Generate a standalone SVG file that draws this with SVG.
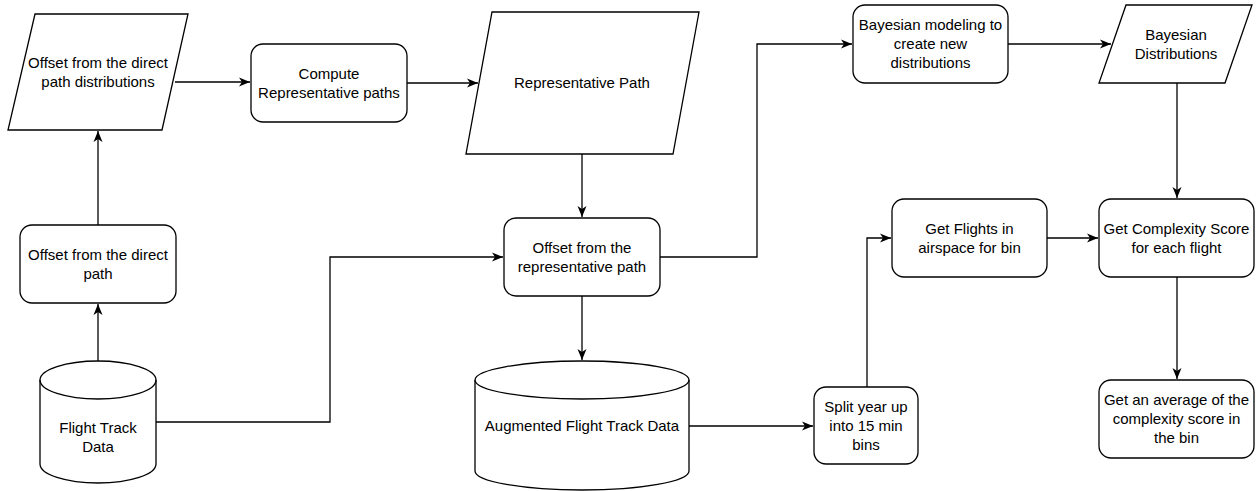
<svg xmlns="http://www.w3.org/2000/svg" width="1258" height="491" viewBox="0 0 1258 491">
<style>
.s{fill:#fff;stroke:#000;stroke-width:1.3}
.c{fill:none;stroke:#000;stroke-width:1.3}
text{font-family:"Liberation Sans",Arial,Helvetica,sans-serif;font-size:15px;fill:#000;text-anchor:middle}
</style>
<defs>
<marker id="a" markerUnits="userSpaceOnUse" markerWidth="12" markerHeight="10" viewBox="0 0 12 10" refX="11" refY="5" orient="auto">
<path d="M0,0.5 L11,5 L0,9.5 L3,5 Z" fill="#000"/>
</marker>
</defs>
<rect width="1258" height="491" fill="#fff"/>
<g id="connectors">
<path class="c" d="M175,82 H250" marker-end="url(#a)"/>
<path class="c" d="M407,83 H478" marker-end="url(#a)"/>
<path class="c" d="M582,154 V217" marker-end="url(#a)"/>
<path class="c" d="M660,257 H757 V44 H852" marker-end="url(#a)"/>
<path class="c" d="M1008,44 H1111" marker-end="url(#a)"/>
<path class="c" d="M1177,83 V198" marker-end="url(#a)"/>
<path class="c" d="M1047,238 H1098" marker-end="url(#a)"/>
<path class="c" d="M867,387 V238 H891" marker-end="url(#a)"/>
<path class="c" d="M689,426 H813" marker-end="url(#a)"/>
<path class="c" d="M582,296 V360" marker-end="url(#a)"/>
<path class="c" d="M156,422 H330 V257 H503" marker-end="url(#a)"/>
<path class="c" d="M98,361 V304" marker-end="url(#a)"/>
<path class="c" d="M98,225 V131" marker-end="url(#a)"/>
<path class="c" d="M1177,277 V379" marker-end="url(#a)"/>
</g>
<g id="n1">
<path class="s" d="M35,14 H188 L162,130 H8 Z"/>
<text x="98" y="67.5">Offset from the direct</text>
<text x="98" y="86.5">path distributions</text>
</g>
<g id="n2">
<rect class="s" x="251" y="44" width="156" height="78" rx="12"/>
<text x="329" y="78.5">Compute</text>
<text x="329" y="97.5">Representative paths</text>
</g>
<g id="n3">
<path class="s" d="M492,12 H699 L673,154 H466 Z"/>
<text x="582" y="88">Representative Path</text>
</g>
<g id="n4">
<rect class="s" x="504" y="218" width="156" height="78" rx="12"/>
<text x="582" y="252.5">Offset from the</text>
<text x="582" y="271.5">representative path</text>
</g>
<g id="n5">
<rect class="s" x="853" y="5" width="155" height="78" rx="12"/>
<text x="930.5" y="30">Bayesian modeling to</text>
<text x="930.5" y="49">create new</text>
<text x="930.5" y="68">distributions</text>
</g>
<g id="n6">
<path class="s" d="M1126,5 H1252 L1225,83 H1099 Z"/>
<text x="1176" y="39.5">Bayesian</text>
<text x="1176" y="58.5">Distributions</text>
</g>
<g id="n7">
<rect class="s" x="892" y="199" width="155" height="78" rx="12"/>
<text x="969.5" y="233.5">Get Flights in</text>
<text x="969.5" y="252.5">airspace for bin</text>
</g>
<g id="n8">
<rect class="s" x="1099" y="199" width="155" height="78" rx="12"/>
<text x="1176.5" y="233.5">Get Complexity Score</text>
<text x="1176.5" y="252.5">for each flight</text>
</g>
<g id="n9">
<rect class="s" x="814" y="387" width="104" height="77" rx="12"/>
<text x="866" y="411.5">Split year up</text>
<text x="866" y="430.5">into 15 min</text>
<text x="866" y="449.5">bins</text>
</g>
<g id="n10">
<rect class="s" x="1099" y="380" width="155" height="78" rx="12"/>
<text x="1176.5" y="405">Get an average of the</text>
<text x="1176.5" y="424">complexity score in</text>
<text x="1176.5" y="443">the bin</text>
</g>
<g id="n11">
<path class="s" d="M475,380 A107,19 0 0 1 689,380 V471 A107,19 0 0 1 475,471 Z"/>
<path class="c" d="M475,380 A107,19 0 0 0 689,380"/>
<text x="582" y="431">Augmented Flight Track Data</text>
</g>
<g id="n12">
<path class="s" d="M40,380 A58,19 0 0 1 156,380 V464 A58,19 0 0 1 40,464 Z"/>
<path class="c" d="M40,380 A58,19 0 0 0 156,380"/>
<text x="98" y="433">Flight Track</text>
<text x="98" y="452">Data</text>
</g>
<g id="n13">
<rect class="s" x="20" y="225" width="156" height="78" rx="12"/>
<text x="98" y="259.5">Offset from the direct</text>
<text x="98" y="278.5">path</text>
</g>
</svg>
